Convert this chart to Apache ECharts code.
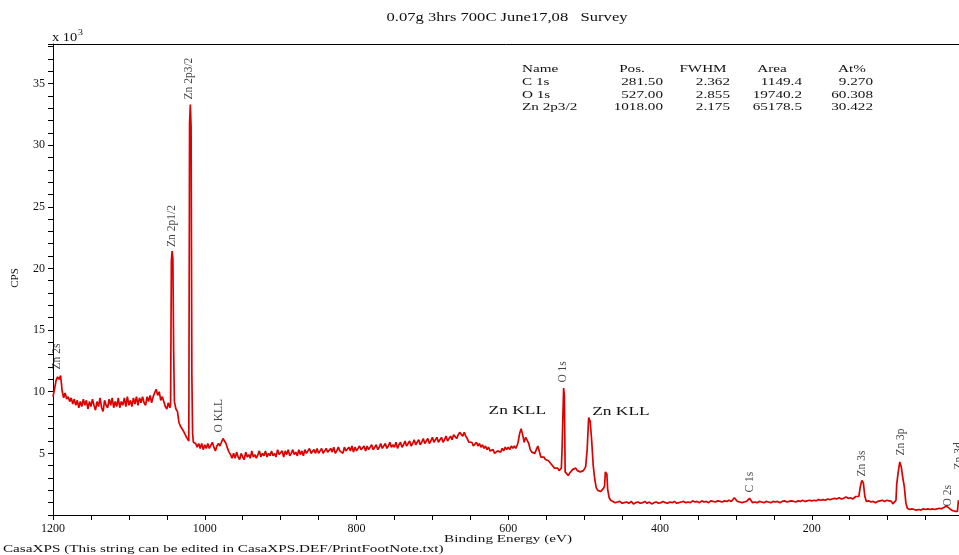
<!DOCTYPE html>
<html>
<head>
<meta charset="utf-8">
<script src="https://cdn.jsdelivr.net/npm/echarts@6/dist/echarts.min.js"></script>
<style>html,body{margin:0;padding:0;background:#fff;}#c{width:959px;height:555px;}</style>
</head>
<body>
<div id="c"></div>
<script>
// Binding energy (eV) and intensity (x 10^3 CPS)
const spectrum = [
[1200,9.6],[1198,10.2],[1196,10.9],[1194,11.2],[1192,11.0],[1190,11.3],[1188,10.1],
[1186,9.5],[1184,9.9],[1182,9.4],[1180,9.6],[1178,9.2],[1176,9.5],[1174,9.0],[1172,9.4],[1170,8.9],[1168,9.3],
[1166,8.7],[1164,9.2],[1162,8.8],[1160,9.4],[1158,8.9],[1156,9.3],[1154,8.6],[1152,9.2],[1150,8.8],[1148,9.4],
[1146,8.9],[1144,8.5],[1142,9.2],[1140,8.8],[1138,9.5],[1136,8.7],[1134,8.4],[1132,9.3],[1130,8.9],[1128,8.7],
[1126,9.4],[1124,8.9],[1122,9.5],[1120,8.7],[1118,9.2],[1116,8.8],[1114,9.5],[1112,8.7],[1110,9.2],[1108,8.9],
[1106,9.5],[1104,8.8],[1102,9.6],[1100,8.9],[1098,9.3],[1096,8.8],[1094,9.5],[1092,9.0],[1090,9.6],[1088,8.9],
[1086,9.5],[1084,9.1],[1082,9.6],[1080,9.1],[1078,8.9],[1076,9.6],[1074,9.2],[1072,9.7],[1070,9.1],[1068,9.6],
[1066,9.5],[1064,10.2],[1062,9.7],[1060,10.0],[1058,9.3],[1056,9.6],[1054,9.2],[1052,8.8],[1050,8.6],[1048,9.1],
[1046,8.7],[1045,9.0],[1044,20.6],
[1043,21.4],[1042,20.8],[1041,13.5],[1040,9.2],[1038,8.6],[1036,8.4],[1034,7.5],[1032,7.2],[1030,7.0],[1028,6.8],
[1026,6.7],[1024,6.3],[1022,6.4],[1021,6.0],[1020,31.8],[1019,33.3],[1018,31.5],[1017,11.4],[1016,6.6],[1015,5.9],
[1012,5.8],[1010,5.5],[1008,5.8],[1006,5.4],[1004,5.8],[1002,5.3],[1000,5.7],[998,5.4],[996,5.8],[994,5.4],
[992,5.3],[990,5.9],[988,5.5],[986,5.2],[984,5.6],[982,5.8],[980,5.6],[978,5.9],[976,6.2],[974,6.1],
[972,5.8],[970,5.4],[968,5.1],
[966,4.9],[964,4.6],[962,5.0],[960,4.6],[958,5.1],[956,4.7],[954,4.5],[952,5.0],[950,4.7],[948,4.5],
[946,5.1],[944,4.7],[942,4.9],[940,4.6],[938,5.2],[936,4.7],[934,4.9],[932,4.6],[930,4.9],[928,5.2],
[926,4.7],[924,5.0],[922,4.8],[920,5.2],[918,4.7],[916,5.0],[914,4.8],[912,5.2],[910,4.8],[908,5.0],
[906,4.7],[904,5.3],[902,4.9],[900,4.8],[898,5.2],[896,4.7],[894,5.2],[892,4.9],[890,5.3],[888,4.8],
[886,5.0],[884,5.3],[882,4.9],[880,5.1],[878,4.8],[876,5.3],[874,4.9],[872,5.2],[870,4.8],[868,5.3],
[866,5.0],[864,4.9],[862,5.4],[860,5.0],[858,4.9],[856,5.3],[854,5.0],[852,5.4],[850,5.0],[848,5.2],
[846,5.4],[844,5.0],[842,4.9],[840,5.4],[838,5.1],[836,5.0],[834,5.4],[832,5.1],[830,5.5],[828,5.0],
[826,5.2],[824,5.5],[822,5.2],[820,5.1],[818,5.0],[816,5.5],[814,5.2],[812,5.1],[810,5.5],[808,5.2],
[806,5.6],[804,5.1],[802,5.5],[800,5.2],[798,5.1],[796,5.6],[794,5.3],[792,5.2],[790,5.6],[788,5.2],
[786,5.6],[784,5.3],[782,5.2],[780,5.7],[778,5.3],[776,5.5],[774,5.7],[772,5.3],[770,5.5],[768,5.8],
[766,5.4],[764,5.6],[762,5.8],[760,5.4],[758,5.6],[756,5.9],[754,5.5],[752,5.7],[750,5.5],[748,5.9],
[746,5.4],[744,5.7],[742,5.9],[740,5.5],[738,5.7],[736,6.0],[734,5.6],[732,5.8],[730,6.0],[728,5.6],
[726,5.8],[724,6.1],[722,5.7],[720,5.9],[718,6.1],[716,5.7],[714,5.9],[712,6.2],[710,5.8],[708,6.0],
[706,6.2],[704,5.8],[702,6.0],[700,6.3],[698,5.9],[696,6.1],[694,6.3],[692,5.9],[690,6.1],[688,6.3],
[686,5.9],[684,6.1],[682,6.4],[680,6.0],[678,5.9],[676,6.4],[674,6.1],[672,6.5],[670,6.6],[668,6.2],
[666,6.5],[664,6.7],[662,6.8],[660,6.4],[658,6.7],[656,6.4],[654,6.2],[652,5.9],[650,5.8],
[648,5.9],[646,5.6],[644,5.7],[642,5.9],[640,5.6],[638,5.8],[636,5.5],[634,5.7],
[632,5.4],[630,5.6],[628,5.3],[626,5.5],[624,5.2],[622,5.1],[620,5.3],[618,5.0],[616,4.9],[614,5.2],
[612,5.3],[610,5.1],[608,5.4],[606,5.2],[604,5.5],[602,5.3],[600,5.5],[598,5.3],[596,5.6],[594,5.4],
[592,5.6],[590,5.4],[588,5.7],[587,5.9],[585,6.6],[583,7.0],[581,6.5],[579,5.9],[577,6.3],[575,6.4],
[573,5.8],[571,5.3],[569,5.1],[567,5.2],[565,5.0],[563,5.3],[561,5.6],[559,5.5],[557,4.7],[555,4.6],
[553,4.7],[551,4.5],[549,4.6],[547,4.4],[545,4.3],[543,4.1],[541,4.0],[539,3.8],[537,3.7],[535,3.8],
[533,3.6],[531,3.7],[530,3.8],[529,5.5],[528,8.0],[527,10.3],[526,9.6],[525,3.5],[523,3.4],[521,3.2],
[519,3.4],[517,3.5],[515,3.7],[513,3.6],[511,3.8],[509,3.6],[507,3.7],[505,3.5],[503,3.5],[501,3.6],
[499,3.7],[498,3.9],[496,5.3],[494,7.9],[492,7.6],[490,6.0],[488,4.0],[486,2.9],[484,2.2],[482,2.0],
[480,1.9],[478,1.9],[476,2.0],[474,2.2],[473,2.4],[472,3.5],[471,3.6],[470,3.3],[469,2.1],[467,1.4],
[465,1.2],[462,1.1],[459,1.0],[456,1.05],[453,1.1],[450,0.95],[447,1.0],[444,1.05],[441,0.95],[438,1.1],
[435,0.9],[432,1.0],[429,1.05],[426,0.95],[423,1.0],[420,1.1],[417,0.95],[414,1.05],[411,0.9],[408,1.0],
[405,1.05],[402,0.95],[399,1.0],[396,1.1],[393,1.0],[390,0.95],[387,1.05],[384,1.0],[381,1.1],[378,0.95],
[375,1.0],[372,1.05],[369,1.1],[366,1.0],[363,1.05],[360,1.0],[357,1.15],[354,1.05],[351,1.1],[348,1.0],
[345,1.15],[342,1.05],[339,1.1],[336,1.0],[333,1.15],[330,1.1],[327,1.05],[324,1.15],[321,1.1],[318,1.05],
[315,1.15],[312,1.1],[309,1.2],[306,1.1],[304,1.2],[302,1.4],[300,1.25],[298,1.1],[295,1.05],[292,1.0],
[289,1.05],[286,1.1],[284,1.2],[282,1.35],[280,1.3],[278,1.0],[275,1.05],[272,1.0],[269,1.1],[266,1.05],
[263,1.0],[260,1.1],[257,1.05],[254,1.0],[251,1.1],[248,1.05],[245,1.1],[242,1.0],[239,1.1],[236,1.15],
[233,1.05],[230,1.1],[227,1.15],[224,1.1],[221,1.05],[218,1.15],[215,1.1],[212,1.2],[209,1.1],[206,1.15],
[203,1.2],[200,1.15],[197,1.2],[194,1.15],[191,1.25],[188,1.2],[185,1.25],[182,1.2],[179,1.3],[176,1.25],
[173,1.3],[170,1.35],[167,1.3],[164,1.4],[161,1.3],[158,1.35],[155,1.45],[152,1.35],[149,1.4],[146,1.3],
[144,1.4],[142,1.5],[140,1.35],[138,1.5],[136,2.3],[134,2.8],[132,2.6],[130,1.5],[128,1.1],[125,1.15],
[122,1.05],[119,1.1],[116,1.0],[113,1.1],[110,1.15],[107,1.2],[104,1.1],[101,1.2],[98,1.15],[95,1.1],
[93,0.9],[91,0.8],[89,1.2],[88,2.5],[86,3.5],[84,4.3],[82,3.9],[80,3.0],[78,2.3],[76,1.0],
[74,0.55],[71,0.45],[68,0.5],[65,0.45],[62,0.4],[59,0.45],[56,0.4],[53,0.5],[50,0.45],[47,0.5],
[44,0.45],[41,0.5],[38,0.45],[35,0.5],[32,0.55],[29,0.5],[26,0.6],[23,0.7],[20,0.6],[17,0.45],
[14,0.35],[11,0.3],[8,0.3],[7,0.4],[6.6,1.2]
];

// Rotated peak annotations
const peakNames = ['Zn 2s','Zn 2p1/2','Zn 2p3/2','O KLL','O 1s','C 1s','Zn 3s','Zn 3p','O 2s','Zn 3d'];
const peakE     = [1194.7, 1043.6, 1020.5, 981, 528, 281.2, 133.3, 82, 20, 5.3];
const peakV     = [11.76, 21.7, 33.66, 6.65, 10.7, 1.78, 3.08, 4.78, 0.65, 3.65];

// Horizontal annotations
const augerNames = ['Zn KLL','Zn KLL'];
const augerE     = [588, 451.5];
const augerV     = [8.48, 8.39];

// Quantification table
const tableHeader = ['Name','Pos.','FWHM','Area','At%'];
const tableNames  = ['C 1s','O 1s','Zn 2p3/2'];
const tablePos    = ['281.50','527.00','1018.00'];
const tableFwhm   = ['2.362','2.855','2.175'];
const tableArea   = ['1149.4','19740.2','65178.5'];
const tableAt     = ['9.270','60.308','30.422'];

const xTicks = [1200, 1000, 800, 600, 400, 200];

const titleText = '0.07g 3hrs 700C June17,08   Survey';
const footText = 'CasaXPS (This string can be edited in CasaXPS.DEF/PrintFootNote.txt)';

const FONT = '"Liberation Serif", "Times New Roman", serif';
const S = 1.38;

function txt(x, y, text, align, size, scale, rot) {
  return {
    type: 'text', x: x, y: y, scaleX: scale || 1, rotation: rot || 0, silent: true,
    style: { text: text, fill: '#111', font: (size || 12) + 'px ' + FONT,
      align: align || 'left', textAlign: align || 'left',
      verticalAlign: 'middle', textVerticalAlign: 'middle' }
  };
}

const chart = echarts.init(document.getElementById('c'), null, { renderer: 'canvas' });

const graphics = [];
graphics.push(txt(507, 18, titleText, 'center', 12, S));
graphics.push(txt(52, 38, 'x 10', 'left', 12, 1.2));
graphics.push(txt(78, 33, '3', 'left', 9, 1.1));
graphics.push(txt(15, 278, 'CPS', 'center', 11, 1, Math.PI / 2));
graphics.push(txt(508, 539, 'Binding Energy (eV)', 'center', 11, S));
graphics.push(txt(3, 549, footText, 'left', 11, S));

const colX = [522, 663, 730, 802, 873];
const hdrX = [522, 632, 703, 772, 852];
const rowY = [69, 82, 95, 107];
tableHeader.forEach((h, i) => graphics.push(txt(hdrX[i], rowY[0], h, i === 0 ? 'left' : 'center', 11, S)));
tableNames.forEach((n, r) => {
  graphics.push(txt(colX[0], rowY[r + 1], n, 'left', 11, S));
  graphics.push(txt(colX[1], rowY[r + 1], tablePos[r], 'right', 11, S));
  graphics.push(txt(colX[2], rowY[r + 1], tableFwhm[r], 'right', 11, S));
  graphics.push(txt(colX[3], rowY[r + 1], tableArea[r], 'right', 11, S));
  graphics.push(txt(colX[4], rowY[r + 1], tableAt[r], 'right', 11, S));
});

const axisBase = {
  type: 'value', inverse: true, min: 0, max: 1200, interval: 50,
  axisLine: { show: true, onZero: false, lineStyle: { color: '#000', width: 1 } },
  splitLine: { show: false }
};

chart.setOption({
  animation: false,
  backgroundColor: '#fff',
  grid: { left: 53, top: 44, width: 910.5, height: 471, containLabel: false, outerBoundsMode: 'none', show: false },
  xAxis: [
    Object.assign({}, axisBase, {
      position: 'bottom',
      axisTick: { show: true, length: 5, inside: false, lineStyle: { color: '#000' } },
      axisLabel: { margin: 8, color: '#111', fontFamily: FONT, fontSize: 12,
        formatter: v => xTicks.indexOf(v) >= 0 ? String(v) : '' }
    }),
    Object.assign({}, axisBase, {
      position: 'top',
      axisTick: { show: false },
      axisLabel: { show: false }
    })
  ],
  yAxis: {
    type: 'value', min: 0, max: 38.2, interval: 1, position: 'left',
    axisLine: { show: true, onZero: false, lineStyle: { color: '#000', width: 1 } },
    axisTick: { show: true, length: 5, inside: false, lineStyle: { color: '#000' } },
    splitLine: { show: false },
    axisLabel: { margin: 8, color: '#111', fontFamily: FONT, fontSize: 12,
      formatter: v => (v > 0 && Math.abs(v % 5) < 1e-9) ? String(v) : '' }
  },
  series: [
    {
      type: 'line', data: spectrum, showSymbol: false, symbol: 'none',
      lineStyle: { color: '#dd0000', width: 1.7 }, z: 3
    },
    {
      type: 'scatter', symbolSize: 1, itemStyle: { color: 'rgba(0,0,0,0)' },
      data: peakNames.map((n, i) => ({ value: [peakE[i], peakV[i]], name: n })),
      label: { show: true, position: 'top', distance: 0, rotate: 90, align: 'left', verticalAlign: 'middle',
        formatter: p => p.name, color: '#111', fontFamily: FONT, fontSize: 11.5 },
      z: 4
    }
  ],
  graphic: graphics
});

// Horizontal "Zn KLL" labels positioned through the chart's own scales
const extra = augerNames.map((n, i) => {
  const p = chart.convertToPixel({ gridIndex: 0 }, [augerE[i], augerV[i]]);
  return txt(p[0], p[1], n, 'center', 12, 1.45);
});
chart.setOption({ graphic: graphics.concat(extra) });
</script>
</body>
</html>
